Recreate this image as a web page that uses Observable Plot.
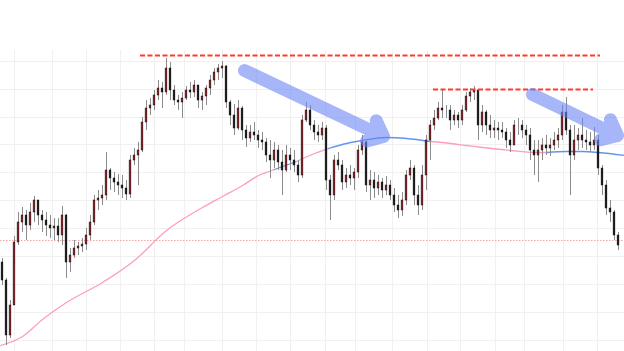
<!DOCTYPE html>
<html>
<head>
<meta charset="utf-8">
<script src="https://cdn.jsdelivr.net/npm/d3@7"></script>
<script src="https://cdn.jsdelivr.net/npm/@observablehq/plot@0.6"></script>
<style>
  html, body { margin: 0; padding: 0; background: #fff; }
  #chart svg { display: block; }
</style>
</head>
<body>
<div id="chart"></div>
<script>
// ---- Data (price units; one candle per session) ----
const firstOpen = 78;
const closes = [
  60, 5, 35, 98, 118, 125, 115, 128, 140, 125,
  120, 115, 112, 114, 105, 125, 78, 85, 92, 94,
  96, 105, 118, 140, 142, 145, 170, 162, 158, 155,
  152, 146, 180, 185, 190, 218, 232, 235, 245, 252,
  248, 272, 250, 240, 238, 242, 250, 248, 255, 240,
  244, 252, 260, 268, 272, 274, 238, 225, 212, 232,
  210, 202, 208, 205, 200, 198, 185, 180, 190, 178,
  170, 185, 180, 175, 165, 220, 230, 215, 208, 205,
  212, 160, 145, 180, 175, 158, 165, 162, 168, 190,
  198, 155, 160, 152, 158, 150, 155, 145, 135, 130,
  140, 165, 172, 145, 135, 165, 200, 215, 222, 232,
  230, 230, 220, 225, 220, 230, 244, 248, 250, 215,
  228, 215, 210, 212, 210, 208, 200, 195, 215, 215,
  210, 205, 190, 185, 190, 195, 192, 195, 200, 205,
  228, 210, 185, 200, 205, 200, 198, 195, 200, 172,
  155, 132, 128, 105, 95
];
const highs = [
  82, 62, 40, 104, 128, 133, 130, 137, 144, 140,
  130, 128, 125, 122, 122, 134, 126, 92, 100, 98,
  102, 112, 125, 145, 150, 155, 188, 172, 168, 166,
  165, 160, 185, 192, 198, 223, 240, 242, 250, 260,
  258, 282, 278, 255, 245, 248, 254, 258, 260, 255,
  248, 255, 265, 272, 276, 279, 275, 240, 236, 240,
  234, 215, 215, 218, 210, 208, 202, 200, 198, 195,
  190, 195, 192, 190, 180, 225, 238, 235, 220, 215,
  218, 215, 165, 185, 188, 180, 172, 175, 172, 195,
  205, 200, 170, 168, 165, 162, 164, 160, 152, 145,
  148, 170, 180, 175, 155, 175, 205, 220, 230, 238,
  250, 235, 235, 230, 228, 235, 248, 252, 254, 245,
  235, 230, 225, 220, 218, 218, 212, 208, 220, 222,
  220, 215, 212, 200, 200, 202, 205, 202, 208, 212,
  235, 243, 215, 215, 212, 222, 210, 208, 213, 205,
  175, 160, 140, 130, 108
];
const lows = [
  55, -5, 2, 75, 95, 108, 100, 110, 118, 115,
  108, 104, 102, 100, 98, 95, 62, 68, 82, 85,
  88, 90, 100, 115, 130, 135, 140, 150, 148, 145,
  142, 140, 142, 175, 155, 188, 210, 225, 230, 240,
  232, 245, 240, 235, 230, 222, 240, 242, 243, 232,
  230, 235, 245, 255, 260, 262, 232, 215, 205, 210,
  200, 193, 198, 200, 192, 190, 178, 162, 172, 170,
  145, 168, 170, 168, 158, 162, 218, 210, 200, 198,
  200, 150, 120, 140, 170, 150, 152, 155, 150, 162,
  185, 148, 140, 142, 145, 142, 145, 140, 128, 122,
  124, 135, 160, 135, 125, 130, 150, 180, 210, 220,
  222, 222, 210, 215, 212, 215, 228, 238, 240, 200,
  208, 205, 202, 202, 200, 202, 192, 188, 200, 205,
  202, 195, 180, 165, 158, 180, 185, 184, 190, 192,
  200, 205, 145, 180, 190, 192, 190, 188, 190, 165,
  145, 125, 118, 100, 90
];

// 200-period moving average (sampled) and its state
const maIndex = [-0.5, 5, 10, 16, 25, 33, 41, 50, 55, 60, 64, 68, 73.5, 78, 81.5, 86, 90, 96, 101, 107, 112, 116, 120, 127, 133, 136, 141, 145, 149, 155.5];
const maValue = [-5, 4, 21, 38, 58, 80, 110, 133, 144, 155, 165, 171, 179, 187, 192, 197, 200, 203, 202, 199, 197, 195, 193, 190, 188, 188, 189, 189, 188, 185];
const maState = ["up","up","up","up","up","up","up","up","up","up","up","down","up","up","down","down","down","down","down","up","up","up","up","up","up","down","down","down","down","down"];

// Resistance levels (dashed red), start/end candle
const levelPrice = [285, 251];
const levelFrom = [34.5, 107.75];
const levelTo = [149.5, 147.75];

// Support line (faint pink dotted)
const supportPrice = [100];

// Trend arrows
const arrowX1 = [60.5, 132.5];
const arrowY1 = [270, 246];
const arrowX2 = [95.25, 153.75];
const arrowY2 = [204, 205];

// Grid (date ticks as candle index, price ticks)
const gridXIdx = [3, 12.5, 21, 29.5, 38, 45.5, 55, 63.5, 72, 80.75, 88.25, 97.5, 106.25, 114.5, 123.25, 130.5, 140.25, 148.75];
const gridYVal = [0, 28, 56, 84, 112, 140, 168, 196, 223, 251, 279];

// ---- Build tables ----
const candles = closes.map((c, i) => ({
  i, open: i ? closes[i - 1] : firstOpen, close: c, high: highs[i], low: lows[i]
}));

const maRuns = [];
let run = 0;
for (let k = 0; k < maIndex.length - 1; k++) {
  if (k > 0 && maState[k] !== maState[k - 1]) run++;
  maRuns.push({x: maIndex[k], y: maValue[k], run, state: maState[k]});
  maRuns.push({x: maIndex[k + 1], y: maValue[k + 1], run, state: maState[k]});
}
const maPts = maRuns.filter((d, j, a) => !(j > 0 && a[j - 1].run === d.run && a[j - 1].x === d.x));

const levels = levelPrice.map((p, k) => ({p, x1: levelFrom[k], x2: levelTo[k]}));
const arrows = arrowX1.map((x, k) => ({x1: x, y1: arrowY1[k], x2: arrowX2[k], y2: arrowY2[k]}));

const chart = Plot.plot({
  width: 624,
  height: 351,
  marginTop: 50,
  marginBottom: 0,
  marginLeft: 0,
  marginRight: 0,
  x: {domain: [-0.5, 155.5], axis: null},
  y: {domain: [-11, 290], axis: null},
  color: {type: "identity"},
  style: {background: "#fff"},
  marks: [
    Plot.ruleX(gridXIdx, {stroke: "#f0f0f0", strokeWidth: 1}),
    Plot.ruleY(gridYVal, {stroke: "#f0f0f0", strokeWidth: 1}),
    Plot.ruleY(supportPrice, {stroke: "#f3a6a6", strokeWidth: 1, strokeDasharray: "1.5,1.5"}),
    Plot.line(maPts, {
      x: "x", y: "y", z: "run",
      stroke: d => d.state === "up" ? "#ff9dbd" : "#5f95ee",
      strokeWidth: 1.3, curve: "monotone-x"
    }),
    Plot.ruleX(candles, {x: "i", y1: "low", y2: "high", stroke: "#8c8c8c", strokeWidth: 1}),
    Plot.rect(candles, {
      x1: d => d.i - 0.22, x2: d => d.i + 0.22, y1: "open", y2: "close",
      fill: d => d.close >= d.open ? "#a3191f" : "#111",
      stroke: "#111", strokeWidth: 0.5
    }),
    Plot.ruleY(levels, {y: "p", x1: "x1", x2: "x2", stroke: "#ff3a2f", strokeWidth: 1.8, strokeDasharray: "5,2.5"}),
    Plot.arrow(arrows, {
      x1: "x1", y1: "y1", x2: "x2", y2: "y2",
      stroke: "#6a85f5", strokeOpacity: 0.6, strokeWidth: 13,
      headLength: 2, headAngle: 80,
      strokeLinecap: "round", strokeLinejoin: "round"
    })
  ]
});
document.getElementById("chart").appendChild(chart);
</script>
</body>
</html>
